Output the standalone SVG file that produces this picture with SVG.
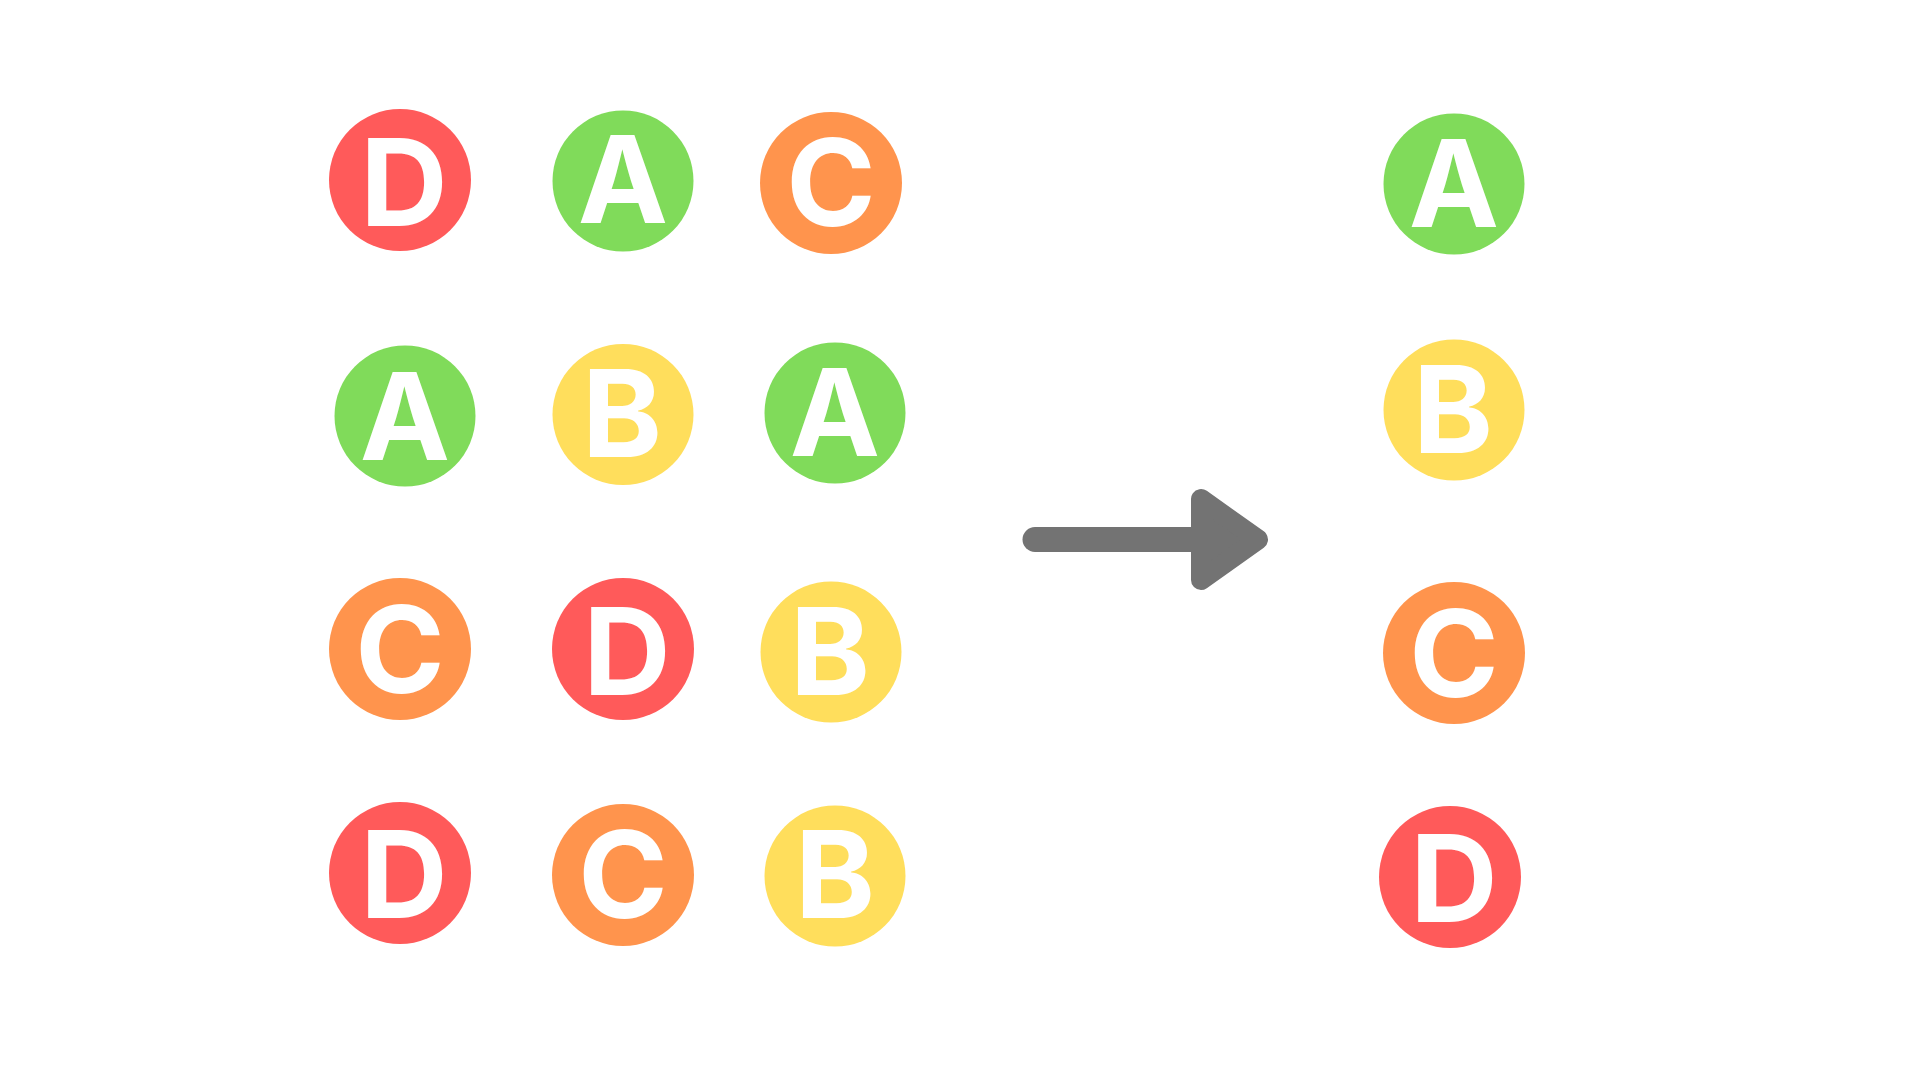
<svg xmlns="http://www.w3.org/2000/svg" width="1920" height="1080" viewBox="0 0 1920 1080">
<style>
.lbl{font-family:Inter,"Liberation Sans",Arial,sans-serif;font-weight:700;font-size:121px;fill:#FFFFFF;text-anchor:middle}
.red{fill:#FF5A5A}
.green{fill:#80DB5A}
.orange{fill:#FF944D}
.yellow{fill:#FFDE5C}
.arrow{fill:#737373;stroke:#737373;stroke-linejoin:round;stroke-linecap:round}
</style>
<rect width="1920" height="1080" fill="#FFFFFF"/>
<g id="node-r1c1"><circle class="red" cx="400" cy="180" r="71"/><text class="lbl" x="404" y="226">D</text></g>
<g id="node-r1c2"><circle class="green" cx="623" cy="181" r="70.5"/><text class="lbl" x="623" y="223">A</text></g>
<g id="node-r1c3"><circle class="orange" cx="831" cy="183" r="71"/><text class="lbl" x="831" y="226">C</text></g>
<g id="node-r2c1"><circle class="green" cx="405" cy="416" r="70.5"/><text class="lbl" x="405" y="460">A</text></g>
<g id="node-r2c2"><circle class="yellow" cx="623" cy="414.5" r="70.5"/><text class="lbl" x="622" y="457">B</text></g>
<g id="node-r2c3"><circle class="green" cx="835" cy="413" r="70.5"/><text class="lbl" x="835" y="456">A</text></g>
<g id="node-r3c1"><circle class="orange" cx="400" cy="649" r="71"/><text class="lbl" x="400" y="693">C</text></g>
<g id="node-r3c2"><circle class="red" cx="623" cy="649" r="71"/><text class="lbl" x="627" y="695">D</text></g>
<g id="node-r3c3"><circle class="yellow" cx="831" cy="652" r="70.5"/><text class="lbl" x="830" y="695">B</text></g>
<g id="node-r4c1"><circle class="red" cx="400" cy="873" r="71"/><text class="lbl" x="404" y="918">D</text></g>
<g id="node-r4c2"><circle class="orange" cx="623" cy="875" r="71"/><text class="lbl" x="623" y="918">C</text></g>
<g id="node-r4c3"><circle class="yellow" cx="835" cy="876" r="70.5"/><text class="lbl" x="835" y="918">B</text></g>
<g id="node-out-a"><circle class="green" cx="1454" cy="184" r="70.5"/><text class="lbl" x="1454" y="227">A</text></g>
<g id="node-out-b"><circle class="yellow" cx="1454" cy="410" r="70.5"/><text class="lbl" x="1453" y="453">B</text></g>
<g id="node-out-c"><circle class="orange" cx="1454" cy="653" r="71"/><text class="lbl" x="1454" y="697">C</text></g>
<g id="node-out-d"><circle class="red" cx="1450" cy="877" r="71"/><text class="lbl" x="1454" y="922">D</text></g>
<g id="connectors">
<line class="arrow" x1="1035" y1="539.5" x2="1205" y2="539.5" stroke-width="25"/>
<polygon class="arrow" points="1201,499 1201,580 1258,539.5" stroke-width="20"/>
</g>
</svg>
